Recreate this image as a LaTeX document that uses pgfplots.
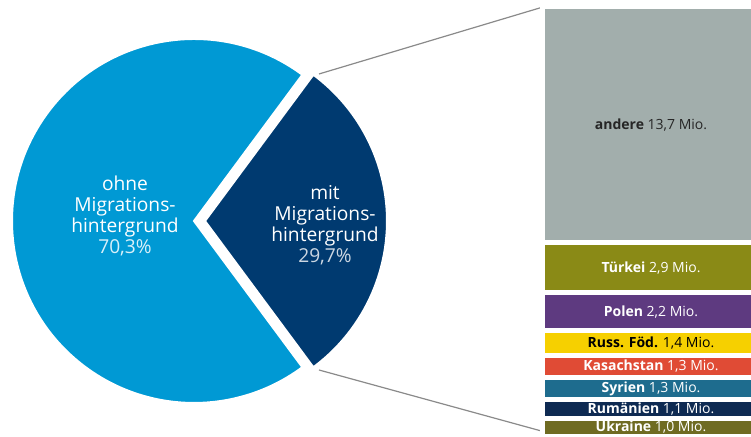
\documentclass[border=0pt]{standalone}
\usepackage{pgfplots}
\pgfplotsset{compat=1.18}
\usepackage{fontspec}
\setmainfont{Open Sans}
\definecolor{cLight}{HTML}{0099D4}
\definecolor{cNavy}{HTML}{003A70}
\definecolor{cAndere}{HTML}{A2AEAC}
\definecolor{cTuerkei}{HTML}{8A8A16}
\definecolor{cPolen}{HTML}{5E3A80}
\definecolor{cRuss}{HTML}{F6D000}
\definecolor{cKas}{HTML}{E04B35}
\definecolor{cSyr}{HTML}{1E6C8E}
\definecolor{cRum}{HTML}{0E2A52}
\definecolor{cUkr}{HTML}{6F6B22}
\definecolor{cLine}{HTML}{8A8A8A}
\tikzset{barlab/.style={font=\fontsize{7}{8}\selectfont, inner sep=0pt}}
\pgfplotsset{baraxis/.style={at={(0,0)}, anchor=south west, scale only axis,
  x=0.5pt, y=8.625pt, xmin=0, xmax=751, ymin=-0.05, ymax=25.28, hide axis, clip=true}}
\begin{document}
\begin{tikzpicture}
\pgfmathsetmacro{\pieMit}{29.7}
\pgfmathsetmacro{\pieHalf}{\pieMit*3.6/2}
\pgfmathsetmacro{\pieRest}{360-\pieHalf}
\begin{axis}[name=main, at={(0,0)}, anchor=south west, scale only axis,
  x=0.5pt, y=0.5pt, xmin=0, xmax=751, ymin=0, ymax=437, hide axis, clip=true]
\fill[cLight, draw=white, line width=1pt] (axis cs:194,216) -- ++(\pieHalf:91pt)
   arc[start angle=\pieHalf, end angle=\pieRest, radius=91pt] -- cycle;
\fill[cNavy, draw=white, line width=1pt] (axis cs:205,216) -- ++(-\pieHalf:91pt)
   arc[start angle=-\pieHalf, end angle=\pieHalf, radius=91pt] -- cycle;
\addplot[cLine, line width=0.6pt, mark=none] coordinates {(319,363) (543,430)};
\addplot[cLine, line width=0.6pt, mark=none] coordinates {(319,67) (545,5)};
\node[align=center, text=white, font=\fontsize{9.6}{10.5}\selectfont] at (axis cs:125,221)
  {ohne\\Migrations-\\hintergrund\\\textcolor{white!85!cLight}{70,3\%}};
\node[align=center, text=white, font=\fontsize{9.6}{10.5}\selectfont] at (axis cs:325,212)
  {mit\\Migrations-\\hintergrund\\\textcolor{white!80!cNavy}{29,7\%}};
\end{axis}
\begin{axis}[baraxis, ybar stacked, bar width=108.5pt]
\addplot[fill=cUkr, draw=white, line width=2.5pt] coordinates {(651,1.0)};
\addplot[fill=cRum, draw=white, line width=2.5pt] coordinates {(651,1.1)};
\addplot[fill=cSyr, draw=white, line width=2.5pt] coordinates {(651,1.3)};
\addplot[fill=cKas, draw=white, line width=2.5pt] coordinates {(651,1.3)};
\addplot[fill=cRuss, draw=white, line width=2.5pt] coordinates {(651,1.4)};
\addplot[fill=cPolen, draw=white, line width=2.5pt] coordinates {(651,2.2)};
\addplot[fill=cTuerkei, draw=white, line width=2.5pt] coordinates {(651,2.9)};
\addplot[fill=cAndere, draw=white, line width=2.5pt] coordinates {(651,13.7)};
\end{axis}
\begin{axis}[baraxis]
\node[barlab, text=white] at (axis cs:651,0.5) {\textbf{Ukraine} 1,0 Mio.};
\node[barlab, text=white] at (axis cs:651,1.55) {\textbf{Rumänien} 1,1 Mio.};
\node[barlab, text=white] at (axis cs:651,2.75) {\textbf{Syrien} 1,3 Mio.};
\node[barlab, text=white] at (axis cs:651,4.05) {\textbf{Kasachstan} 1,3 Mio.};
\node[barlab, text=black] at (axis cs:651,5.4) {\textbf{Russ. Föd.} 1,4 Mio.};
\node[barlab, text=white] at (axis cs:651,7.2) {\textbf{Polen} 2,2 Mio.};
\node[barlab, text=white] at (axis cs:651,9.75) {\textbf{Türkei} 2,9 Mio.};
\node[barlab, text=black!85] at (axis cs:651,18.05) {\textbf{andere} 13,7 Mio.};
\end{axis}
\pgfresetboundingbox
\path[use as bounding box] (main.south west) rectangle (main.north east);
\end{tikzpicture}
\end{document}
